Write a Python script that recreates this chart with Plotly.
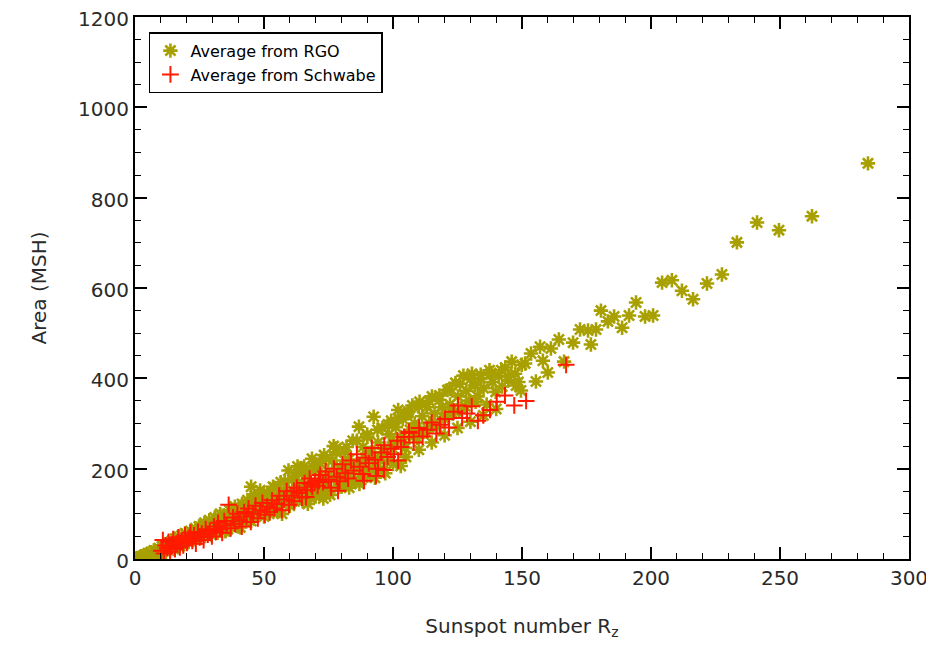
import plotly.graph_objects as go

# ---- data ----
rgo_x = [0.3, 0.8, 1.2, 1.9, 2.4, 3.1, 3.6, 4.2, 4.9, 5.5, 6.1, 6.8, 7.3, 7.9, 8.6, 9.2, 9.8, 10.5, 11.1, 11.7,
         12.4, 13.0, 13.6, 14.3, 14.9, 15.6, 16.2, 16.9, 17.5, 18.1, 18.8, 19.4, 20.0, 9.5, 12.0, 15.0, 17.0, 19.0, 11.0,
         20.8, 21.5, 22.1, 22.9, 23.4, 24.2, 24.8, 25.5, 26.1, 26.9, 27.5, 28.2, 28.8, 29.6, 30.3, 30.9, 31.7, 32.4,
         33.0, 33.8, 34.5, 35.1, 35.9, 36.6, 37.2, 38.0, 38.7, 39.3, 40.1, 40.8, 41.5, 42.2, 42.9, 43.6, 44.3, 45.0,
         45.7, 46.4, 47.1, 47.8, 48.5, 49.2, 49.9,
         50.6, 51.3, 52.0, 52.7, 53.5, 54.2, 55.0, 55.8, 56.5, 57.2, 58.0, 58.8, 59.5, 60.3, 61.0, 61.8, 62.5, 63.3,
         64.1, 64.8, 65.6, 66.3, 67.1, 67.9, 68.6, 69.4, 70.2, 71.0, 71.7, 72.5, 73.3, 74.1, 74.9, 75.6, 76.4, 77.2,
         78.0, 78.8, 79.6, 80.4, 81.2, 82.0, 82.8, 83.6, 84.4, 85.2, 86.0, 86.8, 87.6, 88.4, 89.2, 90.0, 90.9, 91.7,
         92.5, 93.3, 94.2, 95.0, 95.9, 96.7, 97.6, 98.4, 99.3,
         100.2, 101.1, 102.0, 102.9, 103.8, 104.7, 105.6, 106.6, 107.5, 108.4, 109.4, 110.3, 111.3, 112.2, 113.2,
         114.1, 115.1, 116.1, 117.1, 118.0, 119.0, 120.0, 121.1, 122.1, 123.1, 124.2, 125.2, 126.3, 127.3, 128.4,
         129.5, 130.6, 131.7, 132.8, 134.0, 135.1, 136.3, 137.4, 138.6, 139.8, 141.0, 142.3, 143.5, 144.7, 146.0,
         147.3, 148.6, 149.9,
         151.2, 155.4, 157.0, 158.1, 160.0, 161.2, 164.3, 166.3, 169.8, 172.5, 175.6, 176.7, 178.7, 180.6, 183.3,
         185.7, 188.8, 191.5, 194.2, 197.7, 200.8, 204.3, 208.1, 212.0, 216.3, 221.7, 227.5, 233.3, 241.1, 249.6,
         262.4, 284.1, 144.6, 147.7, 149.6, 153.5,
         32, 36, 40, 44, 48, 52, 56, 60, 64, 68, 72, 76, 80, 84, 88, 92, 96, 100, 104, 108, 112, 116, 120, 124,
         128, 132,
         34, 38, 42, 46, 50, 54, 58, 62, 66, 70, 74, 78, 82, 86, 90, 94, 98, 102, 106, 110, 114, 118, 122, 126,
         130, 134, 138, 142,
         45, 63, 77, 2, 5, 8, 14, 18, 24, 27,
         45, 50, 55, 60, 65, 70, 75, 80, 85, 90, 95, 100, 105, 110, 115, 120, 125, 130, 135, 140,
         35, 40, 57, 67, 73, 83, 87, 93, 97, 103]
rgo_y = [0, 2, 1, 4, 6, 3, 9, 7, 12, 5, 15, 10, 19, 13, 17, 24, 14, 28, 20, 31,
         23, 36, 26, 40, 29, 45, 33, 48, 37, 52, 42, 57, 46, 8, 16, 22, 27, 33, 26,
         38, 62, 51, 44, 68, 56, 72, 47, 63, 80, 58, 70, 86, 54, 76, 92, 66, 84,
         100, 72, 95, 62, 88, 108, 78, 98, 116, 84, 104, 70, 122, 92, 110, 130, 86, 118,
         100, 140, 96, 124, 152, 108, 132,
         114, 146, 100, 128, 160, 118, 140, 106, 170, 132, 152, 122, 196, 144, 176, 128, 158, 190,
         140, 170, 205, 150, 186, 136, 222, 164, 198, 150, 212, 176, 230, 158, 194, 142, 218, 178,
         245, 160, 205, 186, 238, 168, 220, 196, 262, 176, 210, 293, 188, 248, 224, 270, 200, 236,
         315, 212, 258, 228, 290, 244, 214, 276, 306,
         258, 292, 330, 270, 310, 246, 322, 286, 340, 300, 268, 348, 316, 282, 336,
         300, 360, 322, 292, 352, 336, 310, 374, 342, 322, 390, 360, 332, 406, 372,
         350, 410, 384, 360, 400, 378, 342, 418, 392, 370, 405, 382, 424, 396, 437,
         410, 392, 430,
         433, 393, 470, 439, 413, 466, 486, 437, 479, 508, 506, 475, 508, 550, 526,
         537, 512, 539, 568, 537, 539, 612, 617, 594, 575, 610, 630, 701, 745, 728,
         759, 876, 404, 384, 373, 455,
         58, 66, 80, 92, 104, 112, 124, 136, 146, 156, 166, 178, 190, 202, 214, 226, 236, 244, 258, 272, 286,
         300, 314, 326, 338, 348,
         96, 108, 118, 134, 146, 158, 172, 184, 196, 210, 222, 236, 248, 262, 276, 286, 298, 312, 326, 338,
         350, 362, 376, 388, 398, 408, 412, 418,
         160, 205, 250, 0, 3, 10, 30, 35, 52, 74,
         84, 94, 106, 118, 128, 138, 148, 160, 172, 184, 196, 210, 226, 242, 258, 274, 290, 304, 318, 332,
         62, 72, 100, 122, 134, 158, 166, 180, 190, 206]

sch_x = [10.2, 10.8, 11.3, 11.9, 12.5, 13.0, 13.6, 14.2, 14.8, 15.5, 16.1, 16.8, 17.4, 18.1, 18.7, 19.4, 20.1,
         20.8, 21.5, 22.2, 22.9, 23.6, 24.4, 25.1, 25.9, 26.6, 27.4, 28.2, 29.0, 29.8,
         30.6, 31.4, 32.2, 33.0, 33.8, 34.6, 35.5, 36.3, 37.1, 38.0, 38.8, 39.7, 40.5, 41.4, 42.3, 43.2, 44.0,
         44.9, 45.8, 46.7, 47.6, 48.5, 49.4, 50.3, 51.2, 52.2, 53.1, 54.0, 55.0, 55.9, 56.9, 57.8, 58.8, 59.7,
         60.7, 61.7, 62.7, 63.7, 64.7, 65.7, 66.7, 67.7, 68.7, 69.7,
         70.8, 71.8, 72.9, 73.9, 75.0, 76.0, 77.1, 78.2, 79.3, 80.4, 81.5, 82.6, 83.7, 84.8, 86.0, 87.1, 88.3,
         89.4, 90.6, 91.8, 93.0, 94.2, 95.4, 96.6, 97.9, 99.1, 100.4, 101.7, 103.1, 104.4, 106.2, 108.0, 110.1,
         111.5, 113.2, 115.0, 116.8, 118.2, 120.1, 121.7, 123.5, 125.2, 126.8, 128.7, 130.5, 132.9, 135.0,
         137.6, 140.2, 143.4, 147.0, 151.6, 167.1,
         61.6, 66.3, 68.2, 71.3, 78.7, 88.8, 93.4, 96.5, 102.0, 106.2]
sch_y = [18, 42, 12, 30, 24, 38, 16, 28, 44, 22, 34, 48, 26, 40, 30, 52, 36,
         46, 58, 40, 52, 34, 60, 48, 56, 42, 66, 54, 62, 50,
         72, 60, 80, 66, 58, 84, 74, 120, 68, 92, 78, 100, 86, 72, 104, 94, 112,
         82, 100, 118, 90, 108, 124, 98, 116, 104, 130, 112, 122, 140, 108, 132, 150, 120,
         140, 128, 158, 146, 136, 168, 152, 178, 160, 172,
         162, 186, 170, 194, 176, 158, 200, 182, 172, 210, 190, 178, 218, 196, 232, 204, 188,
         224, 212, 246, 220, 200, 236, 252, 226, 244, 232, 262, 248, 270, 282, 258, 290,
         271, 286, 302, 278, 297, 310, 291, 326, 340, 312, 322, 338, 306, 318,
         330, 348, 362, 340, 350, 430,
         151, 137, 166, 173, 151, 173, 184, 197, 218, 279]

x_ticks = [0, 50, 100, 150, 200, 250, 300]
y_ticks = [0, 200, 400, 600, 800, 1000, 1200]

OLIVE = "#a8a000"
RED = "#ff1a00"
FONT = "DejaVu Sans"
TXT = "#2a2a2a"

fig = go.Figure()
fig.add_trace(go.Scatter(
    x=rgo_x, y=rgo_y, mode="markers", name="Average from RGO",
    marker=dict(symbol="asterisk-open", size=12, color=OLIVE,
                line=dict(color=OLIVE, width=2.6))))
fig.add_trace(go.Scatter(
    x=sch_x, y=sch_y, mode="markers", name="Average from Schwabe",
    marker=dict(symbol="cross-thin-open", size=12, color=RED,
                line=dict(color=RED, width=2))))

axis_common = dict(
    showgrid=False, zeroline=False, showline=True, linecolor="black", linewidth=2,
    mirror="allticks", ticks="inside", ticklen=12, tickwidth=1.5, tickcolor="black",
    tickfont=dict(family=FONT, size=20, color=TXT), automargin=False,
    ticklabeloverflow="allow",
)
fig.update_xaxes(range=[0, 300], tickvals=x_ticks, ticktext=[str(v) for v in x_ticks],
                 minor=dict(dtick=10, ticks="inside", ticklen=6, tickwidth=1.2, tickcolor="black"),
                 title=dict(text="Sunspot number R<sub>z</sub>", font=dict(family=FONT, size=20, color=TXT),
                            standoff=30),
                 **axis_common)
fig.update_yaxes(range=[0, 1200], tickvals=y_ticks, ticktext=[str(v) for v in y_ticks],
                 minor=dict(dtick=50, ticks="inside", ticklen=6, tickwidth=1.2, tickcolor="black"),
                 title=dict(text="Area (MSH)", font=dict(family=FONT, size=20, color=TXT), standoff=26),
                 ticklabelshift=2,
                 **axis_common)

fig.update_layout(
    width=934, height=647,
    margin=dict(l=127, r=33, t=9, b=96),
    plot_bgcolor="white", paper_bgcolor="white",
    legend=dict(x=0.018, y=0.972, xanchor="left", yanchor="top",
                bgcolor="white", bordercolor="black", borderwidth=1.5,
                font=dict(family=FONT, size=16, color="black"),
                itemwidth=30, tracegroupgap=0),
    showlegend=True,
)

fig.write_html("out.html")
